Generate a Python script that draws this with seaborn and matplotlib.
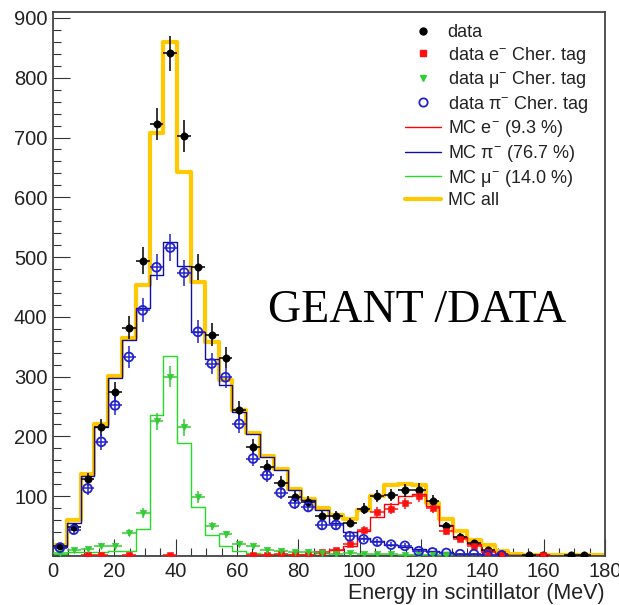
import numpy as np
import pandas as pd
import matplotlib
matplotlib.use('Agg')
import matplotlib.pyplot as plt
import seaborn as sns
from matplotlib.lines import Line2D
from matplotlib.ticker import MultipleLocator

# 40 bins of 4.5 MeV between 0 and 180 MeV
bin_width = 4.5
n_bins = 40

data_all = [17, 49, 128, 215, 275, 382, 494, 722, 841, 703,
            484, 370, 332, 244, 183, 149, 122, 99, 91, 67,
            67, 56, 79, 100, 102, 110, 111, 92, 50, 32,
            22, 10, 4, 0, 1, 1, 0, 1, 1, 0]
data_e = [0, 0, 1, 1, 0, 1, 0, 0, 1, 0,
          0, 0, 0, 0, 2, 2, 3, 1, 2, 6,
          10, 20, 43, 73, 79, 88, 101, 81, 41, 28,
          17, 7, 3, 0, 0, 1, 0, 0, 0, 0]
data_mu = [5, 10, 11, 17, 17, 39, 72, 225, 300, 215,
           98, 50, 36, 20, 16, 10, 8, 6, 6, 5,
           4, 5, 4, 3, 3, 2, 2, 1, 1, 0,
           0, 0, 0, 0, 0, 0, 0, 0, 0, 0]
data_pi = [14, 44, 113, 191, 252, 333, 411, 483, 516, 474,
           375, 322, 299, 221, 163, 135, 106, 88, 82, 52,
           52, 33, 28, 24, 19, 17, 8, 6, 5, 3,
           3, 1, 1, 0, 0, 0, 0, 0, 0, 0]

mc_e = [0, 0, 0, 0, 0, 0, 0, 0, 0, 0,
        0, 0, 0, 0, 1, 1, 1, 1, 2, 5,
        10, 17, 42, 65, 87, 101, 104, 84, 52, 31,
        20, 8, 4, 2, 1, 1, 0, 0, 0, 0]
mc_pi = [15, 56, 133, 215, 298, 361, 415, 470, 526, 485,
         375, 329, 286, 241, 204, 166, 144, 110, 94, 77,
         55, 40, 30, 25, 19, 15, 11, 8, 6, 4,
         3, 2, 1, 1, 0, 0, 0, 0, 0, 0]
mc_mu = [3, 6, 7, 7, 8, 9, 46, 236, 334, 189,
         82, 35, 16, 8, 5, 4, 3, 3, 3, 2,
         2, 2, 2, 1, 1, 1, 1, 1, 0, 0,
         0, 0, 0, 0, 0, 0, 0, 0, 0, 0]
mc_all = [18, 60, 138, 220, 301, 365, 453, 707, 860, 643,
          459, 358, 294, 244, 205, 168, 146, 112, 96, 80,
          68, 62, 77, 100, 118, 120, 118, 88, 62, 42,
          26, 18, 8, 3, 2, 2, 2, 1, 1, 1]

legend_labels = ['data', 'data e$^{-}$ Cher. tag', 'data \u03bc$^{-}$ Cher. tag',
                 'data \u03c0$^{-}$ Cher. tag', 'MC e$^{-}$ (9.3 %)',
                 'MC \u03c0$^{-}$ (76.7 %)', 'MC \u03bc$^{-}$ (14.0 %)', 'MC all']

edges = np.linspace(0, bin_width * n_bins, n_bins + 1)
centers = (edges[:-1] + edges[1:]) / 2

sns.set_theme(style='white')
plt.rcParams['font.family'] = ['Liberation Sans', 'DejaVu Sans']
plt.rcParams['mathtext.fontset'] = 'custom'
plt.rcParams['mathtext.rm'] = 'Liberation Sans'
plt.rcParams['mathtext.it'] = 'Liberation Sans:italic'
plt.rcParams['mathtext.default'] = 'regular'

fig = plt.figure(figsize=(6.19, 6.05), dpi=100)
ax = fig.add_axes([53 / 619, 49 / 605, 552 / 619, 544 / 605])

# MC histograms
mc_styles = [(mc_all, '#ffc800', 3.0), (mc_e, '#ff0000', 1.0),
             (mc_pi, '#1010a0', 1.0), (mc_mu, '#22dd22', 1.0)]
for vals, col, lw in mc_styles:
    hist_df = pd.DataFrame({'E': centers, 'w': vals})
    sns.histplot(data=hist_df, x='E', weights='w', bins=list(edges), element='step',
                 fill=False, color=col, linewidth=lw, ax=ax, zorder=2)

# data points with errors
data_styles = [
    (data_all, 'black', dict(marker='o', s=28, color='black', edgecolor='black')),
    (data_e, '#ff1010', dict(marker='s', s=24, color='#ff1010', edgecolor='#ff1010')),
    (data_mu, '#33cc33', dict(marker='v', s=22, color='#33cc33', edgecolor='#33cc33')),
    (data_pi, '#2222cc', dict(marker='o', s=40, facecolor='none', edgecolor='#2222cc', linewidth=1.3)),
]
for vals, col, kw in data_styles:
    df = pd.DataFrame({'E': centers, 'n': vals})
    df = df[df['n'] > 0]
    ax.errorbar(df['E'], df['n'], xerr=bin_width / 2, yerr=np.sqrt(df['n']),
                fmt='none', ecolor=col, elinewidth=1.1, capsize=0, zorder=3)
    sns.scatterplot(data=df, x='E', y='n', ax=ax, zorder=4, legend=False, **kw)

ax.set_xlim(0, 180)
ax.set_ylim(0, 910)
ax.set_xticks(range(0, 181, 20))
ax.set_yticks(range(100, 901, 100))
ax.xaxis.set_minor_locator(MultipleLocator(5))
ax.yaxis.set_minor_locator(MultipleLocator(20))
ax.tick_params(which='both', direction='in', color='#333333', width=0.8,
               labelsize=14.5, labelcolor='#222222', top=False, right=False,
               bottom=True, left=True)
ax.tick_params(which='major', length=12, pad=4)
ax.tick_params(which='minor', length=6)
for sp in ax.spines.values():
    sp.set_color('#444444')
    sp.set_linewidth(1.3)

ax.set_ylabel('')
ax.set_xlabel('Energy in scintillator (MeV)', fontsize=15.5, color='#222222', ha='right')
ax.xaxis.set_label_coords(1.0, -0.05)

ax.text(0.3895, 0.45, 'GEANT /DATA', transform=ax.transAxes, family='Liberation Serif',
        fontsize=33, ha='left', va='center', color='black')

handles = [
    Line2D([], [], marker='o', ls='none', color='black', markersize=5),
    Line2D([], [], marker='s', ls='none', color='#ff1010', markersize=5),
    Line2D([], [], marker='v', ls='none', color='#33cc33', markersize=5),
    Line2D([], [], marker='o', ls='none', markerfacecolor='none', markeredgecolor='#2222cc',
           markeredgewidth=1.3, markersize=6),
    Line2D([], [], color='#ff0000', lw=1.0),
    Line2D([], [], color='#1010a0', lw=1.0),
    Line2D([], [], color='#22dd22', lw=1.0),
    Line2D([], [], color='#ffc800', lw=3.0),
]
ax.legend(handles, legend_labels, loc='upper left', bbox_to_anchor=(0.638, 0.978),
          frameon=False, fontsize=13, borderpad=0, borderaxespad=0,
          handlelength=2.0, handletextpad=0.35, labelspacing=0.2, labelcolor='#222222')

fig.savefig('out.png', dpi=100)
